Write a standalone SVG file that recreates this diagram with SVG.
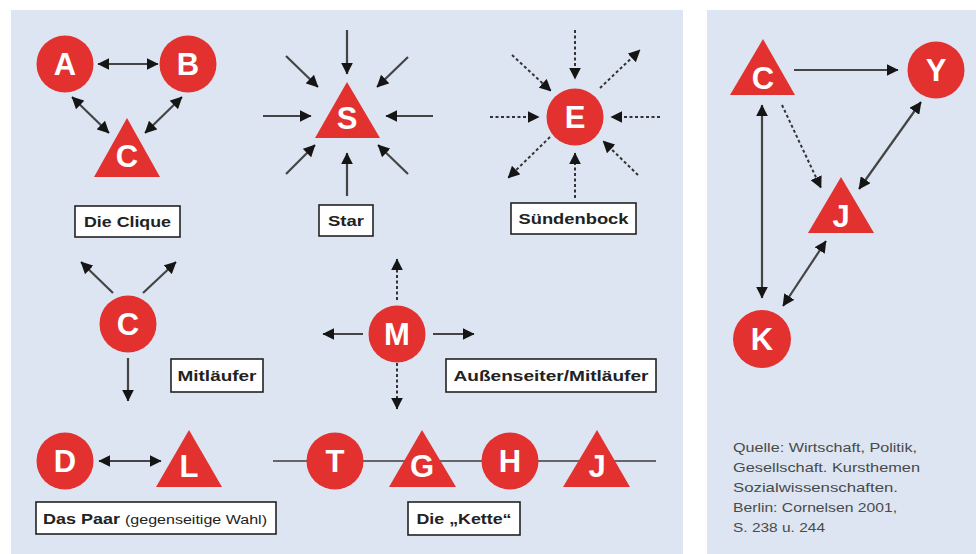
<svg xmlns="http://www.w3.org/2000/svg" width="976" height="554" viewBox="0 0 976 554">
<defs>
<style>
.panel{fill:#dce5f1}
.n{fill:#e2312f}
.lt{font-family:"Liberation Sans",Arial,sans-serif;font-weight:bold;font-size:31px;fill:#fff;text-anchor:middle}
.box{fill:#fff;stroke:#222;stroke-width:1.6}
.lb{font-family:"Liberation Sans",Arial,sans-serif;font-weight:bold;font-size:15px;fill:#222;text-anchor:middle}
.c{stroke:#444;stroke-width:2.2;fill:none}
.d{stroke:#333;stroke-width:2;fill:none;stroke-dasharray:3 2.5}
.src{font-family:"Liberation Sans",Arial,sans-serif;font-size:13px;fill:#4a4a4a}
</style>
<marker id="ah" viewBox="0 0 10 10" refX="9.5" refY="5" markerWidth="12" markerHeight="12" markerUnits="userSpaceOnUse" orient="auto-start-reverse">
<path d="M0,0 L10,5 L0,10 z" fill="#151515"/>
</marker>
</defs>
<rect width="976" height="554" fill="#fff"/>
<rect class="panel" x="11" y="10" width="672" height="544"/>
<rect class="panel" x="707" y="10" width="269" height="544"/>

<g id="connectors">
<line class="c" x1="98" y1="64" x2="158" y2="64" marker-start="url(#ah)" marker-end="url(#ah)"/>
<line class="c" x1="72" y1="97" x2="109" y2="133" marker-start="url(#ah)" marker-end="url(#ah)"/>
<line class="c" x1="182" y1="97" x2="145" y2="133" marker-start="url(#ah)" marker-end="url(#ah)"/>
<line class="c" x1="347" y1="30" x2="347" y2="74" marker-end="url(#ah)"/>
<line class="c" x1="263" y1="116" x2="311" y2="116" marker-end="url(#ah)"/>
<line class="c" x1="433" y1="116" x2="386" y2="116" marker-end="url(#ah)"/>
<line class="c" x1="347" y1="196" x2="347" y2="153" marker-end="url(#ah)"/>
<line class="c" x1="286" y1="56" x2="318" y2="87" marker-end="url(#ah)"/>
<line class="c" x1="408" y1="57" x2="377" y2="87" marker-end="url(#ah)"/>
<line class="c" x1="286" y1="174" x2="315" y2="145" marker-end="url(#ah)"/>
<line class="c" x1="408" y1="174" x2="378" y2="145" marker-end="url(#ah)"/>
<line class="d" x1="575" y1="30" x2="575" y2="79" marker-end="url(#ah)"/>
<line class="d" x1="490" y1="117" x2="539" y2="117" marker-end="url(#ah)"/>
<line class="d" x1="660" y1="117" x2="611" y2="117" marker-end="url(#ah)"/>
<line class="d" x1="575" y1="198" x2="575" y2="153" marker-end="url(#ah)"/>
<line class="d" x1="512" y1="55" x2="551" y2="91" marker-end="url(#ah)"/>
<line class="d" x1="600" y1="88" x2="640" y2="50" marker-end="url(#ah)"/>
<line class="d" x1="550" y1="137" x2="508" y2="178" marker-end="url(#ah)"/>
<line class="d" x1="638" y1="175" x2="603" y2="141" marker-end="url(#ah)"/>
<line class="c" x1="113" y1="293" x2="81" y2="262" marker-end="url(#ah)"/>
<line class="c" x1="143" y1="293" x2="176" y2="262" marker-end="url(#ah)"/>
<line class="c" x1="128" y1="358" x2="128" y2="401" marker-end="url(#ah)"/>
<line class="c" x1="363" y1="334" x2="323" y2="334" marker-end="url(#ah)"/>
<line class="c" x1="433" y1="334" x2="474" y2="334" marker-end="url(#ah)"/>
<line class="d" x1="397" y1="300" x2="397" y2="259" marker-end="url(#ah)"/>
<line class="d" x1="397" y1="363" x2="397" y2="409" marker-end="url(#ah)"/>
<line class="c" x1="99" y1="461" x2="161" y2="461" marker-start="url(#ah)" marker-end="url(#ah)"/>
<line stroke="#666" stroke-width="2.2" x1="273" y1="461" x2="656" y2="461"/>
<line class="c" x1="794" y1="70" x2="898" y2="70" marker-end="url(#ah)"/>
<line class="c" x1="762" y1="105" x2="762" y2="298" marker-start="url(#ah)" marker-end="url(#ah)"/>
<line class="d" x1="782" y1="105" x2="821" y2="188" marker-end="url(#ah)"/>
<line class="c" x1="921" y1="102" x2="859" y2="189" marker-start="url(#ah)" marker-end="url(#ah)"/>
<line class="c" x1="826" y1="241" x2="783" y2="306" marker-start="url(#ah)" marker-end="url(#ah)"/>
</g>

<g id="nodeA"><circle class="n" cx="65" cy="64" r="28.5"/><text class="lt" x="65" y="75">A</text></g>
<g id="nodeB"><circle class="n" cx="188" cy="64" r="28.5"/><text class="lt" x="188" y="75">B</text></g>
<g id="nodeC1"><polygon class="n" points="127,118 94,177 160,177"/><text class="lt" x="127" y="167">C</text></g>
<g id="label-clique"><rect class="box" x="75" y="206" width="105" height="31"/><text class="lb" x="127.5" y="227" textLength="87" lengthAdjust="spacingAndGlyphs">Die Clique</text></g>

<g id="nodeS"><polygon class="n" points="347,82 315,138 380,138"/><text class="lt" x="347" y="129">S</text></g>
<g id="label-star"><rect class="box" x="319" y="205" width="54" height="31"/><text class="lb" x="346" y="226" textLength="36" lengthAdjust="spacingAndGlyphs">Star</text></g>

<g id="nodeE"><circle class="n" cx="575" cy="117" r="28.5"/><text class="lt" x="575" y="128">E</text></g>
<g id="label-suendenbock"><rect class="box" x="511" y="203" width="125" height="31"/><text class="lb" x="573.5" y="224" textLength="110" lengthAdjust="spacingAndGlyphs">Sündenbock</text></g>

<g id="nodeC2"><circle class="n" cx="128" cy="324" r="28.5"/><text class="lt" x="128" y="335">C</text></g>
<g id="label-mitlaeufer"><rect class="box" x="171" y="359" width="92" height="33"/><text class="lb" x="217" y="381" textLength="79" lengthAdjust="spacingAndGlyphs">Mitläufer</text></g>

<g id="nodeM"><circle class="n" cx="397" cy="334" r="28.5"/><text class="lt" x="397" y="345">M</text></g>
<g id="label-aussenseiter"><rect class="box" x="446" y="359" width="210" height="33"/><text class="lb" x="551" y="381" textLength="195" lengthAdjust="spacingAndGlyphs">Außenseiter/Mitläufer</text></g>

<g id="nodeD"><circle class="n" cx="65" cy="461" r="28.5"/><text class="lt" x="65" y="472">D</text></g>
<g id="nodeL"><polygon class="n" points="189,430 156,487 222,487"/><text class="lt" x="189" y="477">L</text></g>
<g id="label-paar"><rect class="box" x="36" y="502" width="240" height="32"/><text class="lb" x="43" y="524" style="text-anchor:start" textLength="77" lengthAdjust="spacingAndGlyphs">Das Paar</text><text x="125" y="524" font-family="Liberation Sans, Arial, sans-serif" font-size="12.5" fill="#222" textLength="142" lengthAdjust="spacingAndGlyphs">(gegenseitige Wahl)</text></g>

<g id="nodeT"><circle class="n" cx="335" cy="461" r="28.5"/><text class="lt" x="335" y="472">T</text></g>
<g id="nodeG"><polygon class="n" points="422,430 389,487 456,487"/><text class="lt" x="422" y="477">G</text></g>
<g id="nodeH"><circle class="n" cx="510" cy="461" r="28.5"/><text class="lt" x="510" y="472">H</text></g>
<g id="nodeJ1"><polygon class="n" points="597,430 563,487 630,487"/><text class="lt" x="597" y="477">J</text></g>
<g id="label-kette"><rect class="box" x="408" y="502" width="112" height="33"/><text class="lb" x="464" y="524" textLength="95" lengthAdjust="spacingAndGlyphs">Die „Kette“</text></g>

<g id="nodeC3"><polygon class="n" points="763,39 730,95 795,95"/><text class="lt" x="763" y="89">C</text></g>
<g id="nodeY"><circle class="n" cx="936" cy="70" r="28.5"/><text class="lt" x="936" y="81">Y</text></g>
<g id="nodeJ2"><polygon class="n" points="841,177 808,233 874,233"/><text class="lt" x="841" y="227">J</text></g>
<g id="nodeK"><circle class="n" cx="762" cy="339" r="29"/><text class="lt" x="762" y="350">K</text></g>

<g id="source">
<text class="src" x="733" y="452" textLength="184" lengthAdjust="spacingAndGlyphs">Quelle: Wirtschaft, Politik,</text>
<text class="src" x="733" y="472" textLength="187" lengthAdjust="spacingAndGlyphs">Gesellschaft. Kursthemen</text>
<text class="src" x="733" y="492" textLength="165" lengthAdjust="spacingAndGlyphs">Sozialwissenschaften.</text>
<text class="src" x="733" y="512" textLength="164" lengthAdjust="spacingAndGlyphs">Berlin: Cornelsen 2001,</text>
<text class="src" x="733" y="532" textLength="92" lengthAdjust="spacingAndGlyphs">S. 238 u. 244</text>
</g>
</svg>
